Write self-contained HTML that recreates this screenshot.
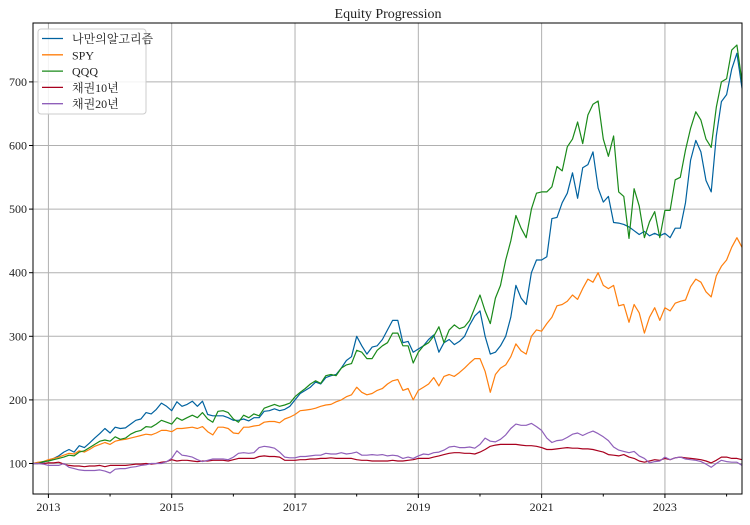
<!DOCTYPE html>
<html><head><meta charset="utf-8"><style>
body{margin:0;background:#fff}
svg text{font-family:"Liberation Serif","Noto Serif CJK KR","NanumGothic",serif;fill:#222}
</style></head><body>
<svg id="chart" width="750" height="520" viewBox="0 0 750 520">
<text x="388" y="18" text-anchor="middle" font-size="14">Equity Progression</text>
<g id="grid"></g><g id="lines"></g><g id="axes"></g><g id="legend"></g>
</svg>
<script>
const startYear = 2012, startMonth = 9; // Oct 2012 (0-based month)
const seriesNames = ["나만의알고리즘","SPY","QQQ","채권10년","채권20년"];
const algoValues = [100,100,102,
105,108,112,118,122,118,128,125,132,140,147,155,
148,157,155,156,162,168,170,180,178,185,195,190,
183,197,190,193,198,190,198,177,175,175,175,172,
168,168,170,167,172,172,182,183,186,183,185,190,
200,210,215,220,228,225,235,238,240,250,262,268,
300,285,272,283,285,295,310,325,325,290,292,275,
280,285,295,302,275,290,295,287,292,300,318,332,
340,300,272,275,285,300,330,380,360,350,400,420,
420,425,485,487,510,525,557,517,565,570,590,533,
511,520,479,478,476,472,466,460,465,458,462,458,
462,455,470,470,510,577,608,590,545,527,615,669,
680,720,745,690];
const spyValues = [100,102,103,
106,108,110,113,116,115,120,118,122,127,130,133,
130,135,137,138,140,142,144,146,145,148,152,152,
150,155,155,156,157,155,158,150,145,157,157,155,
148,147,157,157,159,160,165,166,166,164,170,173,
177,183,184,185,187,190,192,193,197,200,205,208,
220,212,208,210,215,218,225,230,232,215,218,200,
215,220,225,235,222,237,240,237,243,250,258,265,
265,245,212,240,250,255,268,288,277,272,300,310,
308,320,330,348,350,355,365,358,375,390,385,400,
380,375,380,348,350,322,350,337,305,330,345,325,
345,340,352,355,357,378,390,385,370,362,395,410,
420,440,455,440];
const qqqValues = [100,100,103,
104,106,108,110,113,112,118,120,125,130,135,137,
135,142,138,140,146,150,152,158,157,162,168,165,
162,172,168,172,176,172,180,170,165,182,183,180,
170,165,176,172,178,175,187,190,193,190,192,195,
205,212,218,225,230,226,238,240,238,250,255,257,
278,275,265,265,278,285,290,305,305,285,285,258,
275,285,290,300,315,290,310,318,312,315,325,345,
365,340,320,360,380,420,450,490,470,455,500,525,
527,527,535,567,560,598,610,637,603,648,665,670,
610,583,615,527,520,454,532,505,455,480,496,455,
498,498,546,550,593,627,653,640,610,597,660,700,
705,750,758,700];
const bond10Values = [100,100,100,
101,101,102,99,97,96,96,95,96,96,97,95,
97,97,97,97,98,99,99,100,99,100,102,103,
106,104,105,105,104,103,104,104,105,105,105,104,
106,108,108,108,108,111,112,111,111,110,105,105,
105,106,106,107,107,108,108,109,108,108,108,108,
106,105,105,104,104,104,104,105,104,104,105,106,
108,108,108,110,112,114,116,117,117,116,116,115,
118,122,127,129,130,130,130,130,129,128,128,127,
125,122,122,123,124,125,124,124,123,123,122,120,
118,114,113,112,114,110,108,104,102,104,106,105,
108,106,109,110,109,108,107,106,104,101,105,110,
110,108,108,106];
const bond20Values = [100,100,99,
97,97,97,100,94,92,90,89,89,89,90,88,
85,91,92,92,94,95,97,98,100,100,100,103,
108,120,113,112,110,106,103,105,107,107,107,106,
110,116,117,116,117,125,127,126,124,118,110,109,
109,111,111,112,113,113,116,115,115,117,115,116,
118,113,113,114,113,114,112,113,112,108,110,108,
112,115,114,117,118,121,126,127,125,125,126,124,
130,140,135,134,138,145,155,162,160,160,163,158,
152,140,133,136,137,141,146,148,144,148,151,147,
142,136,126,121,119,117,119,112,108,101,103,104,
110,106,109,110,107,106,105,103,99,94,100,105,
103,102,102,97];
const yTicks = [100,200,300,400,500,600,700];
const xMajorTicks = [2013,2015,2017,2019,2021,2023];
const xMinorTicks = [2014,2016,2018,2020,2022,2024];
const colors = ["#00629f","#ff7f0e","#1a8a1a","#a8001e","#8f5fba"];
const allSeries = [algoValues,spyValues,qqqValues,bond10Values,bond20Values];

const L=33,R=742,T=23,B=494;
const n = algoValues.length;
const t0 = startYear + startMonth/12, t1 = t0 + (n-1)/12;
const xT = t => L + (t - t0)/(t1 - t0)*(R-L);
const xI = i => xT(t0 + i/12);
const yV = v => 463.5 - (v-100)*0.636;
const NS="http://www.w3.org/2000/svg";
function mk(tag, attrs, parent){const e=document.createElementNS(NS,tag);for(const k in attrs)e.setAttribute(k,attrs[k]);parent.appendChild(e);return e;}
const grid=document.getElementById('grid'), lines=document.getElementById('lines'), axes=document.getElementById('axes'), legend=document.getElementById('legend');

yTicks.forEach(v=>{
  const y=yV(v);
  const g=mk('line',{x1:L,x2:R,y1:y,y2:y,stroke:'#b0b0b0','stroke-width':1},grid);
  
  
  const tk=mk('line',{x1:L-4,x2:L,y1:y,y2:y,stroke:'#000'},axes);
  
  
  const tx=mk('text',{x:L-6,y:y+4,'text-anchor':'end','font-size':12},axes);
  tx.textContent=v;
  
  
});
xMajorTicks.forEach(yr=>{
  const x=xT(yr);
  const g=mk('line',{x1:x,x2:x,y1:T,y2:B,stroke:'#b0b0b0','stroke-width':1},grid);
  
  
  const tk=mk('line',{x1:x,x2:x,y1:B,y2:B+4,stroke:'#000'},axes);
  
  
  const tx=mk('text',{x:x,y:B+17,'text-anchor':'middle','font-size':12},axes);
  tx.textContent=yr;
  
  
});
xMinorTicks.forEach(yr=>{
  const x=xT(yr); if(x>R)return;
  const tk=mk('line',{x1:x,x2:x,y1:B,y2:B+2.5,stroke:'#000'},axes);
  
  
});
allSeries.forEach((s,k)=>{
  const d=s.map((v,i)=>(i?'L':'M')+xI(i).toFixed(1)+','+yV(v).toFixed(1)).join('');
  const p=mk('path',{d:d,fill:'none',stroke:colors[k],'stroke-width':1.2,'stroke-linejoin':'round'},lines);
  
  
});
const frame=mk('rect',{x:L,y:T,width:R-L,height:B-T,fill:'none',stroke:'#000','stroke-width':1},axes);



const box=mk('rect',{x:38,y:29,width:108,height:85,rx:3,fill:'#fff','fill-opacity':0.85,stroke:'#ccc'},legend);


seriesNames.forEach((nm,k)=>{
  const y=38.5+k*16.3;
  const ln=mk('line',{x1:42,x2:63,y1:y,y2:y,stroke:colors[k],'stroke-width':1.3},legend);
  
  
  const tx=mk('text',{x:72,y:y+4.5,'font-size':12},legend);
  tx.textContent=nm;
  
  
});
</script>
</body></html>
